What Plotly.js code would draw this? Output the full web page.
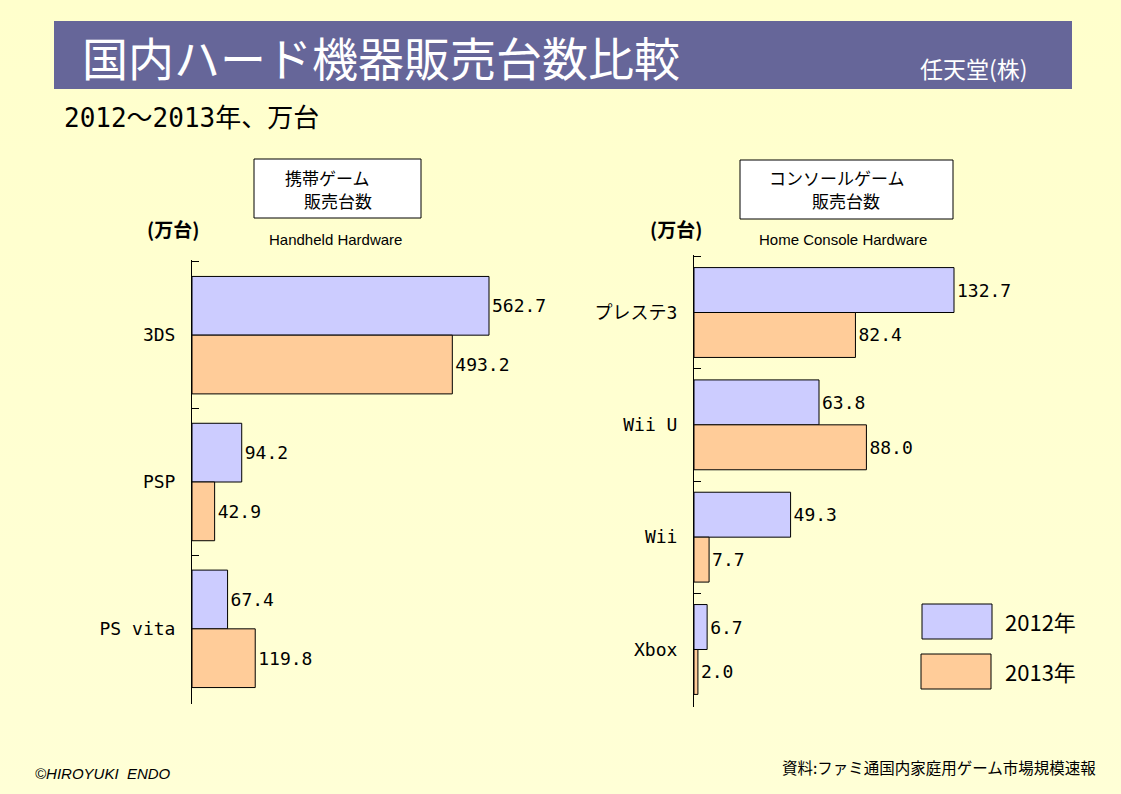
<!DOCTYPE html>
<html>
<head>
<meta charset="utf-8">
<script src="https://cdn.plot.ly/plotly-3.0.1.min.js"></script>
<style>
html,body{margin:0;padding:0;}
#chart{width:1121px;height:794px;background:linear-gradient(#FFFFCC,#FFFFD6);}
</style>
</head>
<body>
<div id="chart"></div>
<script>
// ---- data ----
const handheldCats = ['3DS', 'PSP', 'PS vita'];
const handheld2012 = [562.7, 94.2, 67.4];
const handheld2013 = [493.2, 42.9, 119.8];

const consoleCats = ['プレステ3', 'Wii U', 'Wii', 'Xbox'];
const console2012 = [132.7, 63.8, 49.3, 6.7];
const console2013 = [82.4, 88.0, 7.7, 2.0];

const seriesNames = ['2012年', '2013年'];
const seriesColors = ['#CCCCFF', '#FFCC99'];

// ---- helpers ----
const W = 1121, H = 794;
const X = px => px / W;
const Y = py => 1 - py / H;

const MONO = '"DejaVu Sans Mono", "Liberation Mono", "Noto Sans CJK JP", monospace';
const JP = '"Noto Sans CJK JP", "Noto Sans", sans-serif';
const SANS = '"Liberation Sans", Arial, sans-serif';

function barTrace(x, y, i, xa, ya) {
  return {
    type: 'bar', orientation: 'h', x: x, y: y, name: seriesNames[i],
    xaxis: xa, yaxis: ya,
    marker: {color: seriesColors[i], line: {color: '#000000', width: 1}},
    texttemplate: '%{x:.1f}', textposition: 'outside',
    textfont: {family: MONO, size: 18, color: '#000000'},
    constraintext: 'none', cliponaxis: false, hoverinfo: 'skip'
  };
}

const data = [
  barTrace(handheld2012, handheldCats, 0, 'x', 'y'),
  barTrace(handheld2013, handheldCats, 1, 'x', 'y'),
  barTrace(console2012, consoleCats, 0, 'x2', 'y2'),
  barTrace(console2013, consoleCats, 1, 'x2', 'y2')
];

const yCommon = {
  type: 'category', ticks: 'inside', ticklen: 7, tickwidth: 1, tickcolor: '#000',
  tickson: 'boundaries', showline: true, linecolor: '#000', linewidth: 1,
  showgrid: false, zeroline: false, ticklabelstandoff: 12,
  tickfont: {family: MONO, size: 18, color: '#000'}, fixedrange: true
};

const shapes = [
  // title bar
  {type: 'rect', xref: 'paper', yref: 'paper', x0: X(54), x1: X(1072), y0: Y(89), y1: Y(21),
   fillcolor: '#666699', line: {width: 0}, layer: 'below'},
  // subtitle boxes
  {type: 'rect', xref: 'paper', yref: 'paper', x0: X(254), x1: X(421), y0: Y(218), y1: Y(159),
   fillcolor: '#FFFFFF', line: {color: '#000', width: 1}},
  {type: 'rect', xref: 'paper', yref: 'paper', x0: X(740), x1: X(953), y0: Y(219), y1: Y(160),
   fillcolor: '#FFFFFF', line: {color: '#000', width: 1}},
  // legend boxes
  {type: 'rect', xref: 'paper', yref: 'paper', x0: X(922), x1: X(992), y0: Y(639), y1: Y(604),
   fillcolor: seriesColors[0], line: {color: '#000', width: 1}},
  {type: 'rect', xref: 'paper', yref: 'paper', x0: X(921), x1: X(991), y0: Y(689), y1: Y(654),
   fillcolor: seriesColors[1], line: {color: '#000', width: 1}}
];

function ann(text, px, py, size, opts) {
  return Object.assign({
    text: text, xref: 'paper', yref: 'paper', x: X(px), y: Y(py),
    xanchor: 'left', yanchor: 'middle', showarrow: false,
    font: {family: JP, size: size, color: '#000'}
  }, opts || {});
}

const annotations = [
  ann('国内ハード機器販売台数比較', 80, 56, 46, {font: {family: JP, size: 46, color: '#FFFFFF'}}),
  ann('任天堂(株)', 1030, 68, 23, {xanchor: 'right', font: {family: JP, size: 23, color: '#FFFFFF'}}),
  ann('2012～2013年、万台', 62, 118, 26, {font: {family: MONO, size: 26, color: '#000'}}),
  ann('携帯ゲーム', 283, 177, 17),
  ann('販売台数', 302, 200, 17),
  ann('コンソールゲーム', 767, 177, 17),
  ann('販売台数', 810, 200, 17),
  ann('<b>(万台)</b>', 145, 228, 19),
  ann('<b>(万台)</b>', 648, 228, 19),
  ann('Handheld Hardware', 267, 239, 15, {font: {family: SANS, size: 15, color: '#000'}}),
  ann('Home Console Hardware', 757, 239, 15, {font: {family: SANS, size: 15, color: '#000'}}),
  ann(seriesNames[0], 1003, 621, 22),
  ann(seriesNames[1], 1003, 671, 22),
  ann('<i>©HIROYUKI  ENDO</i>', 33, 773, 15, {font: {family: SANS, size: 15, color: '#000'}}),
  ann('資料:ファミ通国内家庭用ゲーム市場規模速報', 1098, 767, 15.5, {xanchor: 'right'})
];

const eps = 0.012;
const layout = {
  width: W, height: H,
  margin: {l: 0, r: 0, t: 0, b: 0, pad: 0},
  paper_bgcolor: 'rgba(0,0,0,0)', plot_bgcolor: 'rgba(0,0,0,0)',
  showlegend: false, barmode: 'group', bargap: 0.2, bargroupgap: 0,
  xaxis: {domain: [X(192), X(192 + 700 * 297 / 562.7)], range: [0, 700], visible: false, anchor: 'y', fixedrange: true},
  yaxis: Object.assign({}, yCommon, {domain: [Y(704), Y(260)], range: [2.5 + eps, -0.5 - eps], anchor: 'x'}),
  xaxis2: {domain: [X(694), X(694 + 200 * 260 / 132.7)], range: [0, 200], visible: false, anchor: 'y2', fixedrange: true},
  yaxis2: Object.assign({}, yCommon, {domain: [Y(707), Y(255)], range: [3.5 + eps, -0.5 - eps], anchor: 'x2'}),
  shapes: shapes,
  annotations: annotations
};

Plotly.newPlot('chart', data, layout, {displayModeBar: false, staticPlot: true});
</script>
</body>
</html>
